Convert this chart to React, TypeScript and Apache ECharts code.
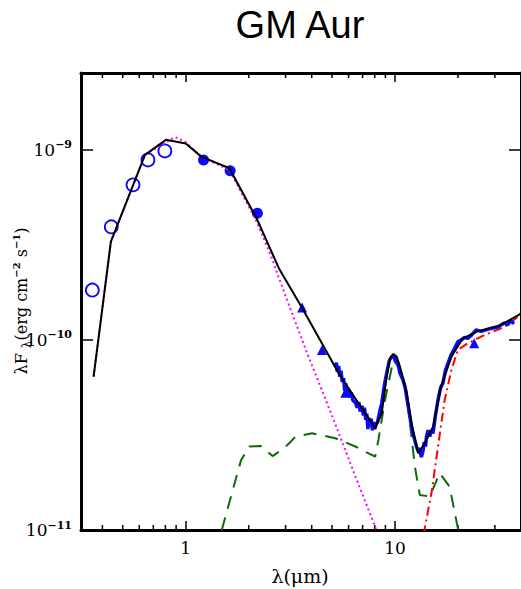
import React, { useEffect, useRef } from "react";
import * as echarts from "echarts";

// Photometry
const lamOpen = [0.358, 0.441, 0.56, 0.66, 0.795];
const fluxOpen = [1.83e-10, 3.94e-10, 6.55e-10, 8.86e-10, 9.88e-10];
const lamFilled = [1.217, 1.63, 2.2];
const fluxFilled = [8.86e-10, 7.78e-10, 4.64e-10];
const lamTri = [3.6, 4.48, 5.79, 23.9];
const fluxTri = [1.48e-10, 8.86e-11, 5.28e-11, 9.6e-11];

// IRS spectrum
const lamSpec = [5.19, 5.25, 5.3, 5.38, 5.45, 5.52, 5.6, 5.68, 5.75, 5.82, 5.89, 5.97, 6.05, 6.15, 6.3, 6.46, 6.6, 6.72, 6.82, 6.95, 7.07, 7.15, 7.25, 7.33, 7.42, 7.5, 7.6, 7.7, 7.8, 7.9, 8.0, 8.1, 8.25, 8.45, 8.64, 8.9, 9.12, 9.4, 9.64, 9.85, 10.0, 10.3, 10.56, 10.9, 11.16, 11.57, 11.99, 12.3, 12.66, 12.9, 13.1, 13.37, 13.6, 13.8, 14.0, 14.13, 14.4, 14.66, 14.9, 15.2, 15.6, 16.05, 16.5, 16.95, 17.4, 17.9, 18.5, 19.27, 20.0, 20.7, 21.5, 22.28, 23.2, 24.4, 25.8, 27.2, 28.7, 31.0, 33.3, 34.5, 35.7, 37.1];
const fluxSpec = [7.24e-11, 7.6e-11, 6.8e-11, 7.3e-11, 6.4e-11, 6.9e-11, 6.0e-11, 6.3e-11, 5.4e-11, 5.9e-11, 5.1e-11, 5.6e-11, 5.0e-11, 5.3e-11, 4.8e-11, 4.7e-11, 4.4e-11, 4.7e-11, 4.2e-11, 4.5e-11, 4.0e-11, 4.4e-11, 3.8e-11, 4.1e-11, 3.4e-11, 3.9e-11, 3.5e-11, 3.85e-11, 3.35e-11, 3.7e-11, 3.4e-11, 3.6e-11, 3.7e-11, 4.2e-11, 4.64e-11, 5.8e-11, 6.68e-11, 7.8e-11, 8.17e-11, 8.3e-11, 7.85e-11, 7.6e-11, 6.68e-11, 6.2e-11, 5.68e-11, 4.46e-11, 3.5e-11, 3.1e-11, 2.75e-11, 2.6e-11, 2.7e-11, 2.42e-11, 2.6e-11, 2.9e-11, 2.75e-11, 3.1e-11, 3.35e-11, 3.1e-11, 3.35e-11, 3.23e-11, 4.0e-11, 4.83e-11, 5.6e-11, 5.92e-11, 6.9e-11, 7.54e-11, 8.3e-11, 9.04e-11, 9.8e-11, 1.0e-10, 1.03e-10, 1.02e-10, 1.06e-10, 1.13e-10, 1.11e-10, 1.13e-10, 1.15e-10, 1.17e-10, 1.23e-10, 1.2e-10, 1.26e-10, 1.22e-10];

// Total model (black)
const lamModel = [0.363, 0.439, 0.639, 0.804, 1.0, 1.187, 1.618, 2.2, 2.79, 3.59, 5.38, 8.04, 8.64, 9.12, 9.47, 9.82, 10.18, 10.56, 11.36, 11.99, 12.9, 13.88, 15.2, 16.6, 18.6, 21.1, 24.8, 31.5, 38.9, 41];
const fluxModel = [6.41e-11, 3.29e-10, 9.42e-10, 1.13e-9, 1.08e-9, 9.22e-10, 8.01e-10, 4.28e-10, 2.38e-10, 1.48e-10, 6.68e-11, 3.43e-11, 4.11e-11, 6.41e-11, 8.01e-11, 8.44e-11, 8.17e-11, 7.24e-11, 5.35e-11, 3.64e-11, 2.53e-11, 2.86e-11, 3.5e-11, 5.68e-11, 8.17e-11, 1.02e-10, 1.11e-10, 1.19e-10, 1.35e-10, 1.42e-10];

// Stellar photosphere (magenta dotted)
const lamPhot = [0.363, 0.439, 0.639, 0.887, 1.0, 1.187, 1.618, 2.165, 2.6, 2.79, 3.79, 5.0, 6.5, 8.04, 8.4];
const fluxPhot = [6.41e-11, 3.29e-10, 9.42e-10, 1.17e-9, 1.1e-9, 9.19e-10, 7.85e-10, 4.28e-10, 2.64e-10, 2.11e-10, 8.6e-11, 4.0e-11, 1.89e-11, 1.04e-11, 9.0e-12];

// Inner disk (green dashed)
const lamDisk = [1.487, 1.838, 2.013, 2.29, 2.6, 2.79, 3.06, 3.35, 4.02, 5.19, 6.46, 8.04, 8.33, 8.96, 9.82, 10.37, 11.36, 12.45, 13.14, 14.66, 16.35, 18.24, 19.97, 20.3];
const fluxDisk = [1.0e-11, 2.33e-11, 2.75e-11, 2.77e-11, 2.45e-11, 2.58e-11, 2.8e-11, 3.1e-11, 3.23e-11, 3.04e-11, 2.75e-11, 2.43e-11, 2.98e-11, 4.83e-11, 7.85e-11, 7.24e-11, 5.24e-11, 2.15e-11, 1.53e-11, 1.5e-11, 1.99e-11, 1.69e-11, 1.02e-11, 9.0e-12];

// Outer wall (red dash-dot)
const lamWall = [13.7, 14.93, 16.05, 17.27, 18.6, 19.97, 22.28, 26.7, 33.3, 38.9, 41];
const fluxWall = [9.5e-12, 1.56e-11, 2.75e-11, 4.83e-11, 6.95e-11, 8.86e-11, 9.6e-11, 1.06e-10, 1.17e-10, 1.33e-10, 1.38e-10];

// Axes
const xMin = 0.316;
const xMax = 40;
const yMin = 1e-11;
const yMax = 2.54e-9;
const minorTicks = [0.4, 0.5, 0.6, 0.7, 0.8, 0.9, 2, 3, 4, 5, 6, 7, 8, 9, 20, 30];

const zip = (a: number[], b: number[]) => a.map((v, i) => [v, b[i]]);
const FONT = "'Liberation Sans', Arial, sans-serif";
const SERIF = "'DejaVu Serif', serif";
const BLUE = "#0a0aff";

export default function App() {
  const ref = useRef<HTMLDivElement>(null);
  useEffect(() => {
    if (!ref.current) return;
    const chart = echarts.init(ref.current, null, { renderer: "svg" });
    const isPow = (v: number) => Math.abs(Math.log10(v) - Math.round(Math.log10(v))) < 1e-6;
    const axisCommon = {
      type: "log" as const,
      logBase: 10,
      splitLine: { show: false },
      minorTick: { show: false },
    };
    const frame = { show: true, lineStyle: { color: "#000", width: 3 } };
    chart.setOption({
      animation: false,
      backgroundColor: "#ffffff",
      graphic: [
        {
          type: "text",
          x: 300,
          y: 25,
          style: { text: "GM Aur", font: `38px ${FONT}`, fill: "#000", align: "center", verticalAlign: "middle" },
        },
        {
          type: "text",
          x: 21,
          y: 301,
          rotation: Math.PI / 2,
          style: {
            text: "{a|λF }{b|λ}{a|(erg cm}{s|−2}{a| s}{s|−1}{a|)}",
            align: "center",
            verticalAlign: "middle",
            fill: "#000",
            rich: {
              a: { fontSize: 16, fontFamily: SERIF, fill: "#000" },
              b: { fontSize: 12, fontFamily: SERIF, fill: "#000", padding: [12, 0, 0, 0] },
              s: { fontSize: 10, fontFamily: SERIF, fontWeight: "bold", fill: "#000", padding: [0, 0, 10, 0] },
            },
          },
        },
        {
          type: "text",
          x: 300,
          y: 576,
          style: { text: "λ(μm)", font: `19px ${SERIF}`, fill: "#000", align: "center", verticalAlign: "middle" },
        },
      ],
      grid: { left: 81, right: -2.5, top: 73, bottom: 59, containLabel: false },
      xAxis: [
        {
          ...axisCommon,
          min: xMin,
          max: xMax,
          position: "bottom",
          axisLine: frame,
          axisTick: { show: true, inside: true, length: 9, lineStyle: { color: "#000", width: 1.5 } },
          axisLabel: {
            color: "#000",
            fontFamily: SERIF,
            fontSize: 17,
            margin: 9,
            showMinLabel: false,
            showMaxLabel: false,
            formatter: (v: number) => (isPow(v) ? String(Math.round(v)) : ""),
          },
        },
        {
          ...axisCommon,
          min: xMin,
          max: xMax,
          position: "top",
          axisLine: frame,
          axisTick: { show: true, inside: true, length: 9, lineStyle: { color: "#000", width: 1.5 } },
          axisLabel: { show: false },
        },
      ],
      yAxis: [
        {
          ...axisCommon,
          min: yMin,
          max: yMax,
          position: "left",
          axisLine: frame,
          axisTick: { show: true, inside: true, length: 12, lineStyle: { color: "#000", width: 1.5 } },
          axisLabel: {
            color: "#000",
            fontSize: 17,
            fontFamily: SERIF,
            margin: 9,
            showMaxLabel: false,
            formatter: (v: number) => {
              if (!isPow(v)) return "";
              const e = Math.round(Math.log10(v));
              return `{b|10}{s|−${-e}}`;
            },
            rich: {
              b: { fontSize: 17, fontFamily: SERIF, color: "#000" },
              s: { fontSize: 11, fontFamily: SERIF, fontWeight: "bold", color: "#000", padding: [0, 0, 10, 0] },
            },
          },
        },
        {
          ...axisCommon,
          min: yMin,
          max: yMax,
          position: "right",
          axisLine: frame,
          axisTick: { show: true, inside: true, length: 12, lineStyle: { color: "#000", width: 1.5 } },
          axisLabel: { show: false },
        },
      ],
      series: [
        {
          type: "custom",
          xAxisIndex: 0,
          yAxisIndex: 0,
          silent: true,
          clip: false,
          data: minorTicks.map((v) => [v]),
          renderItem: (_p: any, api: any) => {
            const x = api.value(0);
            const b = api.coord([x, yMin]);
            const t = api.coord([x, yMax]);
            const st = { stroke: "#000", lineWidth: 1.5 };
            return {
              type: "group",
              children: [
                { type: "line", shape: { x1: b[0], y1: b[1], x2: b[0], y2: b[1] - 5 }, style: st },
                { type: "line", shape: { x1: t[0], y1: t[1], x2: t[0], y2: t[1] + 5 }, style: st },
              ],
            };
          },
        },
        {
          type: "line",
          data: zip(lamDisk, fluxDisk),
          showSymbol: false,
          lineStyle: { color: "#0b6b0b", width: 2, type: [13, 9] },
        },
        {
          type: "line",
          data: zip(lamWall, fluxWall),
          showSymbol: false,
          lineStyle: { color: "#ff0000", width: 2, type: [9, 4, 2, 4] },
        },
        {
          type: "line",
          data: zip(lamPhot, fluxPhot),
          showSymbol: false,
          lineStyle: { color: "#ff00ff", width: 2, type: [2, 3] },
        },
        {
          type: "line",
          data: zip(lamSpec, fluxSpec),
          showSymbol: false,
          lineStyle: { color: BLUE, width: 3.5 },
        },
        {
          type: "line",
          data: zip(lamModel, fluxModel),
          showSymbol: false,
          lineStyle: { color: "#000", width: 2 },
        },
        {
          type: "scatter",
          data: zip(lamOpen, fluxOpen),
          symbol: "circle",
          symbolSize: 13,
          itemStyle: { color: "rgba(0,0,0,0)", borderColor: BLUE, borderWidth: 1.8, opacity: 1 },
        },
        {
          type: "scatter",
          data: zip(lamFilled, fluxFilled),
          symbol: "circle",
          symbolSize: 11,
          itemStyle: { color: BLUE, opacity: 1 },
        },
        {
          type: "scatter",
          data: zip(lamTri, fluxTri),
          symbol: "triangle",
          symbolSize: 10,
          itemStyle: { color: BLUE, opacity: 1 },
        },
      ],
    });
    return () => chart.dispose();
  }, []);
  return (
    <div
      ref={ref}
      style={{ position: "fixed", left: 0, top: 0, width: 521, height: 589, background: "#fff" }}
    />
  );
}
